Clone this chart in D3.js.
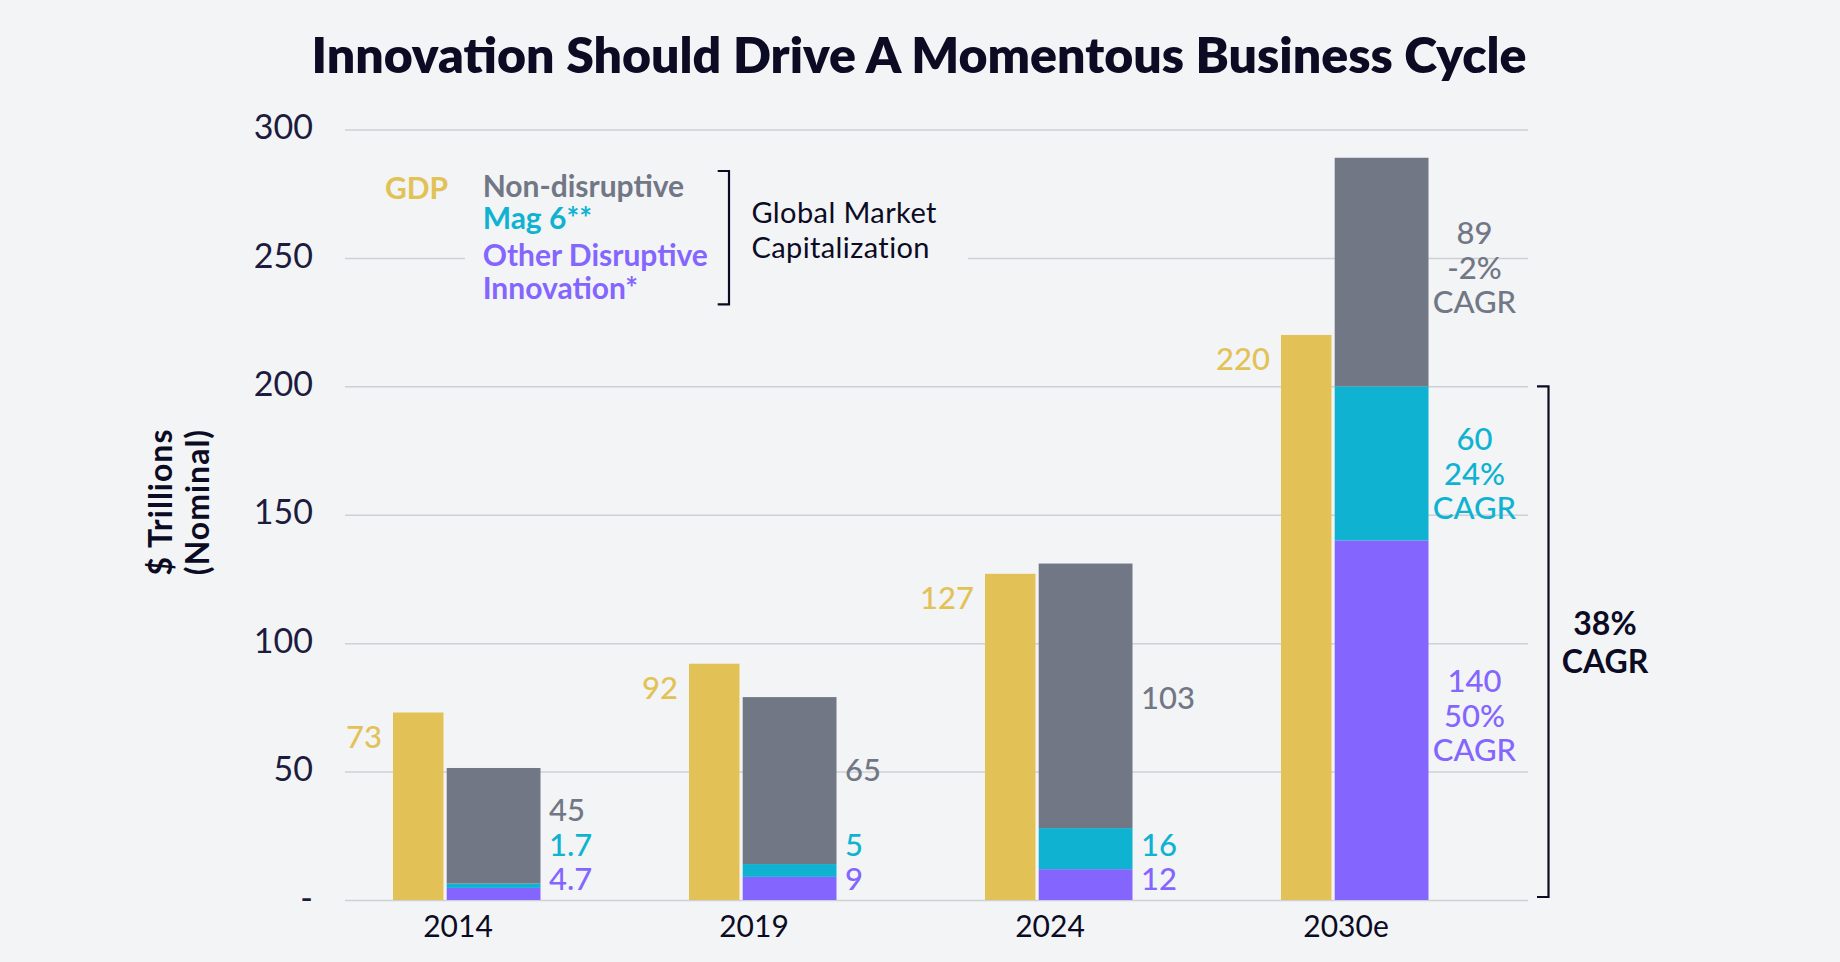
<!DOCTYPE html>
<html>
<head>
<meta charset="utf-8">
<script src="https://cdn.jsdelivr.net/npm/d3@7"></script>
<style>
  html, body { margin: 0; padding: 0; background: #F3F4F6; }
  svg { display: block; font-family: Lato, "Noto Sans", sans-serif; }
</style>
</head>
<body>
<svg id="chart" width="1840" height="962"></svg>
<script>
// ---------- data ----------
const categories = ["2014", "2019", "2024", "2030e"];
const gdp = [73, 92, 127, 220];
const otherDisruptive = [4.7, 9, 12, 140];
const mag6 = [1.7, 5, 16, 60];
const nonDisruptive = [45, 65, 103, 89];
const cagr2030 = { nonDisruptive: "-2%", mag6: "24%", otherDisruptive: "50%" };
const totalCagr = "38%";
const yTickValues = [0, 50, 100, 150, 200, 250, 300];
const yTickLabels = ["-", "50", "100", "150", "200", "250", "300"];
const seriesKeys = ["otherDisruptive", "mag6", "nonDisruptive"];
const seriesNames = { gdp: "GDP", nonDisruptive: "Non-disruptive", mag6: "Mag 6**", otherDisruptive: ["Other Disruptive", "Innovation*"] };

// ---------- styles ----------
const colors = { gdp: "#E2C257", nonDisruptive: "#717785", mag6: "#0FB3D1", otherDisruptive: "#8466FE" };
const dark = "#0C0B24";
const tickColor = "#1D1C3E";
const gridColor = "#CFD0D5";

const svg = d3.select("#chart");
const gridLeft = 345, gridRight = 1528;

const x = d3.scaleBand().domain(categories).range([310, 1494]).padding(0);
const y = d3.scaleLinear().domain([0, 300]).range([900, 129.5]);
const bw = x.bandwidth();
const gdpX = c => x(c) + bw * 0.2804;
const gdpW = bw * 0.1706;
const stX = c => x(c) + bw * 0.4618;
const stW = bw * 0.3169;

const rows = categories.map((c, i) => ({
  cat: c, gdp: gdp[i], otherDisruptive: otherDisruptive[i], mag6: mag6[i], nonDisruptive: nonDisruptive[i]
}));
const stacked = d3.stack().keys(seriesKeys)(rows);

// ---------- gridlines ----------
const yAxis = d3.axisLeft(y).tickValues(yTickValues).tickSize(-(gridRight - gridLeft))
  .tickFormat((d, i) => yTickLabels[i]).tickPadding(32);
const gAxis = svg.append("g").attr("transform", `translate(${gridLeft},0)`).call(yAxis);
gAxis.select(".domain").remove();
gAxis.selectAll(".tick line").attr("stroke", gridColor).attr("stroke-width", 1.5);
gAxis.selectAll(".tick text").attr("fill", tickColor).attr("font-size", 34)
  .attr("font-family", "Lato").attr("dy", "0.27em");

// ---------- legend background (hides gridline) ----------
svg.append("rect").attr("x", 465).attr("y", 160).attr("width", 503).attr("height", 150).attr("fill", "#F3F4F6");

// ---------- bars ----------
svg.append("g").selectAll("rect").data(rows).join("rect")
  .attr("x", d => gdpX(d.cat)).attr("width", gdpW)
  .attr("y", d => y(d.gdp)).attr("height", d => y(0) - y(d.gdp))
  .attr("fill", colors.gdp);

svg.append("g").selectAll("g").data(stacked).join("g")
  .attr("fill", s => colors[s.key])
  .selectAll("rect").data(s => s).join("rect")
  .attr("x", d => stX(d.data.cat)).attr("width", stW)
  .attr("y", d => y(d[1])).attr("height", d => y(d[0]) - y(d[1]));

// ---------- x axis labels ----------
const xAxis = d3.axisBottom(x).tickSize(0).tickPadding(0);
const gx = svg.append("g").attr("transform", `translate(0,${y(0)})`).call(xAxis);
gx.select(".domain").remove();
gx.selectAll(".tick text").attr("fill", dark).attr("font-size", 30).attr("font-family", "Lato")
  .attr("dy", 0).attr("y", 36.7);

// ---------- value labels ----------
const lab = svg.append("g").attr("font-family", "Lato").attr("font-weight", 500).attr("font-size", 31);
rows.forEach((d, i) => {
  lab.append("text").attr("x", gdpX(d.cat) - 11).attr("y", y(d.gdp) + 35)
    .attr("text-anchor", "end").attr("fill", colors.gdp).text(d.gdp);
});
const last = categories.length - 1;
const grayNudge = [0, 0, 13];
rows.forEach((d, i) => {
  if (i === last) return;
  const lx = stX(d.cat) + stW + 8.5;
  const purpleY = y(0) - 10;
  const cyanY = purpleY - 34.5;
  const mid = y(d.otherDisruptive + d.mag6 + d.nonDisruptive / 2);
  const grayY = Math.min(mid + grayNudge[i], cyanY - 34.8);
  lab.append("text").attr("x", lx).attr("y", purpleY).attr("fill", colors.otherDisruptive).text(d.otherDisruptive);
  lab.append("text").attr("x", lx).attr("y", cyanY).attr("fill", colors.mag6).text(d.mag6);
  lab.append("text").attr("x", lx).attr("y", grayY).attr("fill", colors.nonDisruptive).text(d.nonDisruptive);
});
// final category: three-line blocks
const blockNudge = { nonDisruptive: -28, mag6: -13, otherDisruptive: -28 };
stacked.forEach(s => {
  const seg = s[last];
  const mid = y((seg[0] + seg[1]) / 2);
  const cx = stX(categories[last]) + stW + 46;
  const t = lab.append("text").attr("text-anchor", "middle").attr("fill", colors[s.key]);
  [String(rows[last][s.key]), cagr2030[s.key], "CAGR"].forEach((line, k) => {
    t.append("tspan").attr("x", cx).attr("y", mid + blockNudge[s.key] + k * 34.5).text(line);
  });
});

// ---------- right bracket ----------
const bx = 1548.5;
const innovTop = y(otherDisruptive[last] + mag6[last]);
svg.append("path")
  .attr("d", `M${bx - 11.5},${innovTop} H${bx} V${y(0) - 3} H${bx - 11.5}`)
  .attr("fill", "none").attr("stroke", dark).attr("stroke-width", 2.2);
const tc = svg.append("text").attr("font-family", "Lato").attr("font-weight", 700).attr("font-size", 32)
  .attr("fill", dark).attr("text-anchor", "middle");
tc.append("tspan").attr("x", 1605).attr("y", 635).text(totalCagr);
tc.append("tspan").attr("x", 1605).attr("y", 673.3).text("CAGR");

// ---------- title ----------
svg.append("text").attr("x", 919).attr("y", 73.3).attr("text-anchor", "middle")
  .attr("font-family", "Lato").attr("font-weight", 800).attr("font-size", 50).attr("fill", dark)
  .text("Innovation Should Drive A Momentous Business Cycle");

// ---------- y title ----------
const yt = svg.append("text").attr("transform", "translate(0,502) rotate(-90)")
  .attr("font-family", "Lato").attr("font-weight", 700).attr("font-size", 32).attr("fill", dark)
  .attr("letter-spacing", 1).attr("text-anchor", "middle");
yt.append("tspan").attr("x", 0).attr("y", 171.7).text("$ Trillions");
yt.append("tspan").attr("x", 0).attr("y", 209).text("(Nominal)");

// ---------- legend ----------
const lg = svg.append("g").attr("font-family", "Lato").attr("font-weight", 700).attr("font-size", 30);
lg.append("text").attr("x", 385).attr("y", 199).attr("fill", colors.gdp).text(seriesNames.gdp);
lg.append("text").attr("x", 482.7).attr("y", 196.7).attr("fill", colors.nonDisruptive).text(seriesNames.nonDisruptive);
lg.append("text").attr("x", 482.7).attr("y", 229.3).attr("fill", colors.mag6).text(seriesNames.mag6);
lg.append("text").attr("x", 482.7).attr("y", 265.7).attr("fill", colors.otherDisruptive).text(seriesNames.otherDisruptive[0]);
lg.append("text").attr("x", 482.7).attr("y", 299.3).attr("fill", colors.otherDisruptive).text(seriesNames.otherDisruptive[1]);
svg.append("path").attr("d", "M717.7,171 H729 V304.3 H717.7")
  .attr("fill", "none").attr("stroke", dark).attr("stroke-width", 2.2);
const gm = svg.append("text").attr("font-family", "Lato").attr("font-size", 29)
  .attr("letter-spacing", 0.4).attr("fill", dark);
gm.append("tspan").attr("x", 751.4).attr("y", 223.3).text("Global Market");
gm.append("tspan").attr("x", 751.4).attr("y", 258.3).text("Capitalization");
</script>
</body>
</html>
